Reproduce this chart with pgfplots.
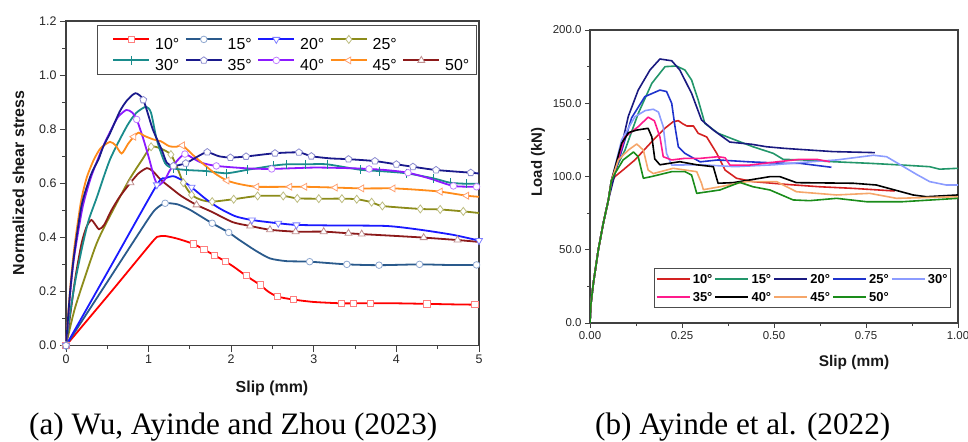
\documentclass[border=0pt]{standalone}
\usepackage{pgfplots}
\pgfplotsset{compat=1.18}
\usepackage{pgfplotstable}
\usepackage{fontspec}
\setmainfont{Liberation Sans}
\newfontfamily\capfont{Liberation Serif}

% left colours
\definecolor{c10}{HTML}{FF0000}\definecolor{m10}{HTML}{FF7F7F}
\definecolor{c15}{HTML}{2A5A8C}\definecolor{m15}{HTML}{8FA8D0}
\definecolor{c20}{HTML}{1A1AFF}\definecolor{m20}{HTML}{8080FF}
\definecolor{c25}{HTML}{8C8C1A}\definecolor{m25}{HTML}{BDBD80}
\definecolor{c30}{HTML}{1A8C8C}
\definecolor{c35}{HTML}{1A1A8C}\definecolor{m35}{HTML}{8C8CD0}
\definecolor{c40}{HTML}{8C1AFF}\definecolor{m40}{HTML}{C080FF}
\definecolor{c45}{HTML}{FF8C1A}\definecolor{m45}{HTML}{FFA070}
\definecolor{c50}{HTML}{8C1A1A}\definecolor{m50}{HTML}{C09090}
% right colours
\definecolor{r10}{HTML}{D42222}
\definecolor{r15}{HTML}{22966A}
\definecolor{r20}{HTML}{1A1A80}
\definecolor{r25}{HTML}{1F33CC}
\definecolor{r30}{HTML}{8C9CFF}
\definecolor{r35}{HTML}{FF1A8C}
\definecolor{r40}{HTML}{000000}
\definecolor{r45}{HTML}{F5A66A}
\definecolor{r50}{HTML}{1A8C1A}

\pgfplotstableread{
x y m
0 0 1
0.55 0.2 0
1.05 0.385 0
1.12 0.403 0
1.2 0.405 0
1.35 0.395 0
1.54 0.376 1
1.67 0.355 1
1.80 0.333 1
1.93 0.311 1
2.05 0.287 0
2.18 0.258 1
2.35 0.224 1
2.45 0.199 0
2.56 0.181 1
2.75 0.17 1
3.0 0.161 0
3.33 0.156 1
3.48 0.156 1
3.69 0.156 1
4.0 0.156 0
4.37 0.154 1
4.7 0.152 0
4.95 0.151 1
5.0 0.151 0
}\tA
\pgfplotstableread{
x y m
0 0 1
0.5 0.235 0
1.0 0.47 0
1.1 0.508 0
1.2 0.526 1
1.35 0.522 0
1.5 0.502 0
1.64 0.476 0
1.77 0.452 1
1.97 0.418 1
2.1 0.39 0
2.3 0.35 0
2.47 0.322 0
2.67 0.312 0
2.95 0.31 1
3.40 0.300 1
3.79 0.297 1
4.28 0.300 1
4.6 0.298 0
4.97 0.298 1
5.0 0.298 0
}\tB
\pgfplotstableread{
x y m
0 0 1
0.55 0.297 0
1.10 0.594 1
1.2 0.618 0
1.3 0.626 0
1.4 0.612 0
1.52 0.585 1
1.7 0.54 0
1.86 0.507 0
2.05 0.478 0
2.25 0.464 1
2.57 0.452 1
2.79 0.446 1
3.2 0.444 0
3.88 0.442 0
4.29 0.428 0
4.69 0.409 0
5.0 0.388 1
}\tC
\pgfplotstableread{
x y m
0 0 1
0.113 0.143 0
0.355 0.365 0
0.5 0.46 0
0.76 0.61 0
0.92 0.686 0
1.03 0.735 1
1.15 0.728 0
1.27 0.706 1
1.35 0.655 0
1.42 0.602 1
1.52 0.557 1
1.64 0.538 0
1.77 0.532 1
2.03 0.541 1
2.32 0.553 1
2.63 0.553 1
2.80 0.544 1
3.06 0.543 1
3.34 0.543 1
3.52 0.541 1
3.70 0.530 1
3.83 0.516 1
4.29 0.505 1
4.53 0.503 1
4.81 0.496 1
5.0 0.490 0
}\tD
\pgfplotstableread{
x y m
0 0 1
0.05 0.12 0
0.113 0.24 0
0.2 0.37 0
0.275 0.464 0
0.37 0.545 0
0.533 0.688 0
0.735 0.81 0
0.85 0.86 0
0.97 0.883 0
1.03 0.86 0
1.1 0.76 0
1.2 0.674 0
1.3 0.655 1
1.46 0.649 1
1.7 0.645 1
1.945 0.637 1
2.2 0.65 1
2.51 0.665 1
2.67 0.67 1
2.9 0.67 1
3.16 0.67 1
3.56 0.65 1
3.8 0.645 1
4.12 0.637 1
4.45 0.618 1
4.65 0.602 1
4.85 0.598 1
5.0 0.598 0
}\tE
\pgfplotstableread{
x y m
0 0 1
0.05 0.2 0
0.1 0.34 0
0.19 0.52 0
0.3 0.63 0
0.396 0.69 0
0.45 0.735 0
0.533 0.785 0
0.65 0.865 0
0.735 0.905 0
0.84 0.933 0
0.936 0.908 1
1.05 0.80 0
1.16 0.723 0
1.22 0.676 0
1.30 0.664 1
1.45 0.674 1
1.6 0.70 0
1.71 0.715 1
1.85 0.70 0
1.99 0.695 1
2.18 0.699 1
2.53 0.711 1
2.82 0.714 1
2.97 0.70 1
3.2 0.692 0
3.42 0.689 1
3.74 0.682 1
4.0 0.67 1
4.2 0.661 1
4.48 0.649 1
4.9 0.639 1
5.0 0.636 0
}\tF
\pgfplotstableread{
x y m
0 0 1
0.05 0.19 0
0.1 0.33 0
0.2 0.51 0
0.3 0.62 0
0.4 0.70 0
0.47 0.75 0
0.55 0.80 0
0.63 0.845 0
0.73 0.871 0
0.8 0.862 0
0.856 0.836 1
0.93 0.77 0
1.0 0.698 0
1.07 0.62 0
1.12 0.592 0
1.2 0.615 0
1.26 0.649 0
1.35 0.685 0
1.44 0.708 1
1.55 0.69 0
1.65 0.675 0
1.82 0.664 1
2.2 0.655 0
2.49 0.653 1
3.0 0.658 0
3.4 0.656 0
3.67 0.653 1
3.9 0.648 0
4.14 0.639 1
4.4 0.618 0
4.69 0.59 1
4.97 0.587 1
5.0 0.587 0
}\tG
\pgfplotstableread{
x y m
0 0 1
0.05 0.21 0
0.1 0.36 0
0.18 0.53 0
0.25 0.62 0
0.335 0.686 0
0.42 0.73 0
0.533 0.753 0
0.6 0.74 0
0.674 0.71 0
0.75 0.745 0
0.82 0.772 1
0.876 0.787 0
0.95 0.775 0
1.057 0.762 0
1.15 0.755 0
1.25 0.737 0
1.34 0.735 0
1.41 0.74 1
1.56 0.698 0
1.80 0.637 0
1.95 0.61 1
2.1 0.597 0
2.31 0.587 1
2.71 0.587 1
2.89 0.587 1
3.26 0.584 1
3.58 0.581 1
3.96 0.581 1
4.25 0.576 0
4.53 0.569 1
4.85 0.554 1
5.0 0.55 0
}\tH
\pgfplotstableread{
x y m
0 0 1
0.05 0.11 0
0.113 0.25 0
0.19 0.38 0
0.25 0.44 0
0.307 0.464 0
0.355 0.447 0
0.40 0.43 0
0.46 0.445 0
0.55 0.50 0
0.65 0.55 0
0.78 0.602 1
0.88 0.637 0
0.98 0.656 0
1.05 0.645 0
1.15 0.612 0
1.26 0.585 0
1.4 0.552 0
1.58 0.52 1
1.76 0.495 0
2.02 0.456 0
2.23 0.442 1
2.47 0.428 1
2.78 0.421 1
3.12 0.421 1
3.42 0.415 1
3.58 0.412 1
4.0 0.405 0
4.33 0.399 1
4.74 0.39 1
5.0 0.383 0
}\tI

% right panel
\pgfplotstableread{
x y
0 0
0.002 12
0.009 27
0.0226 50
0.036 68
0.05 84
0.058 96
0.068 100
0.09 104.5
0.122 111.3
0.172 124.9
0.204 133
0.226 137.4
0.24 138.1
0.252 136
0.263 134.5
0.281 134.5
0.294 129.5
0.317 127
0.344 116
0.367 104.4
0.398 98.8
0.443 96.5
0.534 94.6
0.624 93
0.715 91.9
0.828 90.1
}\rA
\pgfplotstableread{
x y
0 0
0.002 12
0.009 27
0.0226 50
0.036 68
0.05 84
0.058 97
0.075 108
0.095 118
0.131 143
0.168 163.6
0.204 175
0.235 175.4
0.258 172.7
0.276 165.9
0.294 152.2
0.312 136.3
0.348 129.5
0.394 125
0.443 120.3
0.498 115.8
0.525 111.7
0.579 111.3
0.66 110.1
0.76 109
0.85 107.8
0.923 106.7
0.95 105
1.0 105.6
}\rB
\pgfplotstableread{
x y
0 0
0.002 12
0.009 27
0.0226 50
0.036 68
0.05 84
0.077 111
0.104 141
0.131 159
0.163 172.7
0.19 180.2
0.222 179
0.244 172.7
0.276 156.8
0.303 138.6
0.335 131.7
0.38 123.5
0.439 122
0.48 120.3
0.529 119.2
0.57 118.5
0.66 117
0.774 116.3
}\rC
\pgfplotstableread{
x y
0 0
0.002 12
0.009 27
0.0226 50
0.036 68
0.05 84
0.058 97
0.077 110
0.113 140
0.149 154.5
0.19 159
0.208 158
0.222 150
0.231 134
0.24 120.3
0.258 115.8
0.299 110
0.348 111.3
0.434 110
0.529 109
0.57 109
0.656 106.3
}\rD
\pgfplotstableread{
x y
0 0
0.002 12
0.009 27
0.0226 50
0.036 68
0.05 84
0.058 97
0.086 125
0.122 140.8
0.15 145
0.172 145.9
0.186 144
0.199 134
0.208 115.8
0.222 107.8
0.303 108
0.394 106.7
0.5 108
0.57 109.5
0.67 111.3
0.77 114.5
0.806 113.5
0.85 107
0.887 101.5
0.923 96.5
0.968 94.2
1.0 94.2
}\rE
\pgfplotstableread{
x y
0 0
0.002 12
0.009 27
0.0226 50
0.036 68
0.05 84
0.058 97
0.095 127
0.131 134
0.158 140.5
0.175 138
0.19 127
0.199 113.5
0.222 111.3
0.258 112.4
0.3 112.4
0.348 113.5
0.367 112.8
0.38 107.8
0.434 107.8
0.511 110.1
0.57 111.7
0.616 111.7
0.652 110.1
}\rF
\pgfplotstableread{
x y
0 0
0.002 12
0.009 27
0.0226 50
0.036 68
0.05 84
0.058 97
0.086 122.7
0.105 130
0.127 131.7
0.158 132.9
0.168 127
0.176 112
0.19 108
0.244 110.1
0.29 108
0.335 106.7
0.348 95.4
0.389 95.8
0.489 99.9
0.516 99.9
0.561 95.8
0.715 95.4
0.778 94.2
0.878 87.4
0.914 86.2
1.0 87.4
}\rG
\pgfplotstableread{
x y
0 0
0.002 12
0.009 27
0.0226 50
0.036 68
0.05 84
0.058 97
0.077 111.3
0.104 118
0.127 122.2
0.145 118
0.158 104.4
0.172 102
0.226 105.6
0.29 103.3
0.303 95.4
0.308 91
0.353 93
0.425 96.5
0.507 96.5
0.561 89.6
0.67 87.4
0.76 88.5
0.833 85.1
1.0 86.2
}\rH
\pgfplotstableread{
x y
0 0
0.002 12
0.009 27
0.0226 50
0.036 68
0.05 84
0.058 97
0.068 102.2
0.09 111.3
0.118 116.7
0.131 113.5
0.145 98.8
0.168 100
0.222 103.3
0.258 103.3
0.276 101
0.29 88.5
0.353 90.8
0.407 96
0.443 93
0.489 90.8
0.552 84
0.597 83.5
0.67 85.1
0.751 82.8
0.85 82.8
1.0 85.1
}\rI

\pgfplotsset{
  s10/.style={color=c10, mark=square*, mark size=3.1bp, mark options={fill=white, draw=m10, line width=0.8bp, solid}},
  s15/.style={color=c15, mark=*, mark size=3.3bp, mark options={fill=white, draw=m15, line width=0.8bp, solid}},
  s20/.style={color=c20, mark=triangle*, mark size=4bp, mark options={fill=white, draw=m20, line width=0.8bp, solid, rotate=180}},
  s25/.style={color=c25, mark=diamond*, mark size=4bp, mark options={fill=white, draw=m25, line width=0.8bp, solid}},
  s30/.style={color=c30, mark=|, mark size=4.5bp, mark options={draw=c30, line width=1bp, solid}},
  s35/.style={color=c35, mark=pentagon*, mark size=3.6bp, mark options={fill=white, draw=m35, line width=0.8bp, solid}},
  s40/.style={color=c40, mark=*, mark size=3.3bp, mark options={fill=white, draw=m40, line width=0.8bp, solid}},
  s45/.style={color=c45, mark=triangle*, mark size=4bp, mark options={fill=white, draw=m45, line width=0.8bp, solid, rotate=90}},
  s50/.style={color=c50, mark=triangle*, mark size=4bp, mark options={fill=white, draw=m50, line width=0.8bp, solid}},
  ln/.style={line width=1.8bp, smooth, tension=0.4, no marks, forget plot},
  mks/.style={only marks, forget plot, restrict expr to domain={\thisrow{m}}{0.5:1.5}},
  rl/.style={line width=1.6bp, no marks, forget plot, line join=round},
}

\begin{document}
\begin{tikzpicture}
\path[use as bounding box] (0bp,0bp) rectangle (968bp,-442bp);

% ---------------- left panel ----------------
\begin{axis}[
  at={(66bp,-345.5bp)}, anchor=south west,
  scale only axis, width=413bp, height=324.5bp,
  xmin=0, xmax=5, ymin=0, ymax=1.2,
  xtick={0,1,2,3,4,5}, xticklabels={0,1,2,3,4,5},
  ytick={0,0.2,0.4,0.6,0.8,1.0,1.2}, yticklabels={0.0,0.2,0.4,0.6,0.8,1.0,1.2},
  minor xtick={0.5,1.5,2.5,3.5,4.5},
  minor ytick={0.1,0.3,0.5,0.7,0.9,1.1},
  tick pos=left, tick align=outside,
  major tick length=6bp, minor tick length=3.5bp,
  axis line style={draw=black!75, line width=1.1bp},
  every tick/.style={draw=black!75, line width=0.9bp},
  tick label style={font=\fontsize{12.5}{14}\selectfont, text=black!85},
  clip=false,
  legend columns=5,
  legend cell align=left,
  legend style={at={(0.0751,0.9877)}, anchor=north west, draw=black!70, line width=0.8bp,
    font=\fontsize{16}{18}\selectfont, inner xsep=2bp, inner ysep=3.5bp,
    nodes={inner xsep=5bp, inner ysep=0.75bp, text height=19.5bp, text depth=0bp},
    /tikz/every even column/.append style={column sep=-12.4bp}},
  legend image code/.code={\path (-13bp,0bp); \draw[mark repeat=2,mark phase=2,#1] plot coordinates {(0bp,0bp) (18bp,0bp) (36bp,0bp)};},
]
\addplot[c10, ln] table[x=x,y=y] {\tA};
\addplot[s10, mks] table[x=x,y=y] {\tA};
\addplot[c15, ln] table[x=x,y=y] {\tB};
\addplot[s15, mks] table[x=x,y=y] {\tB};
\addplot[c25, ln] table[x=x,y=y] {\tD};
\addplot[s25, mks] table[x=x,y=y] {\tD};
\addplot[c50, ln] table[x=x,y=y] {\tI};
\addplot[s50, mks] table[x=x,y=y] {\tI};
\addplot[c20, ln] table[x=x,y=y] {\tC};
\addplot[s20, mks] table[x=x,y=y] {\tC};
\addplot[c30, ln] table[x=x,y=y] {\tE};
\addplot[s30, mks] table[x=x,y=y] {\tE};
\addplot[c40, ln] table[x=x,y=y] {\tG};
\addplot[s40, mks] table[x=x,y=y] {\tG};
\addplot[c45, ln] table[x=x,y=y] {\tH};
\addplot[s45, mks] table[x=x,y=y] {\tH};
\addplot[c35, ln] table[x=x,y=y] {\tF};
\addplot[s35, mks] table[x=x,y=y] {\tF};

\addlegendimage{s10, line width=1.8bp}\addlegendentry{10°}
\addlegendimage{s15, line width=1.8bp}\addlegendentry{15°}
\addlegendimage{s20, line width=1.8bp}\addlegendentry{20°}
\addlegendimage{s25, line width=1.8bp}\addlegendentry{25°}
\addlegendimage{empty legend}\addlegendentry{}
\addlegendimage{s30, line width=1.8bp}\addlegendentry{30°}
\addlegendimage{s35, line width=1.8bp}\addlegendentry{35°}
\addlegendimage{s40, line width=1.8bp}\addlegendentry{40°}
\addlegendimage{s45, line width=1.8bp}\addlegendentry{45°}
\addlegendimage{s50, line width=1.8bp}\addlegendentry{50°}
\end{axis}

% ---------------- right panel ----------------
\begin{axis}[
  at={(590bp,-323bp)}, anchor=south west,
  scale only axis, width=368bp, height=293bp,
  xmin=0, xmax=1, ymin=0, ymax=200,
  xtick={0,0.25,0.5,0.75,1}, xticklabels={0.00,0.25,0.50,0.75,1.00},
  ytick={0,50,100,150,200}, yticklabels={0.0,50.0,100.0,150.0,200.0},
  minor xtick={0.125,0.375,0.625,0.875},
  minor ytick={25,75,125,175},
  tick pos=left, tick align=outside,
  major tick length=5bp, minor tick length=3bp,
  axis line style={draw=black!75, line width=1.1bp},
  every tick/.style={draw=black!75, line width=0.9bp},
  tick label style={font=\fontsize{11.5}{13}\selectfont, text=black!85},
  legend columns=5,
  legend cell align=left,
  legend style={at={(0.1739,0.1877)}, anchor=north west, draw=black!70, line width=0.8bp,
    font=\bfseries\fontsize{13}{15}\selectfont, inner xsep=1bp, inner ysep=1.5bp,
    nodes={inner xsep=1.8bp, inner ysep=4.4bp, text height=9.3bp, text depth=0bp},
    /tikz/every even column/.append style={column sep=0bp}},
  legend image code/.code={\draw[#1, line width=2.6bp] (0bp,0bp) -- (33bp,0bp);},
]
\addplot[r10, rl] table[x=x,y=y] {\rA};
\addplot[r15, rl] table[x=x,y=y] {\rB};
\addplot[r20, rl] table[x=x,y=y] {\rC};
\addplot[r25, rl] table[x=x,y=y] {\rD};
\addplot[r30, rl] table[x=x,y=y] {\rE};
\addplot[r35, rl] table[x=x,y=y] {\rF};
\addplot[r40, rl] table[x=x,y=y] {\rG};
\addplot[r45, rl] table[x=x,y=y] {\rH};
\addplot[r50, rl] table[x=x,y=y] {\rI};
\addlegendimage{r10}\addlegendentry{10°}
\addlegendimage{r15}\addlegendentry{15°}
\addlegendimage{r20}\addlegendentry{20°}
\addlegendimage{r25}\addlegendentry{25°}
\addlegendimage{r30}\addlegendentry{30°}
\addlegendimage{r35}\addlegendentry{35°}
\addlegendimage{r40}\addlegendentry{40°}
\addlegendimage{r45}\addlegendentry{45°}
\addlegendimage{r50}\addlegendentry{50°}
\end{axis}

% ---------------- labels and captions ----------------
\node[rotate=90, font=\bfseries\fontsize{16}{18}\selectfont, text=black!90] at (18.5bp,-183bp) {Normalized shear stress};
\node[font=\bfseries\fontsize{16}{18}\selectfont, text=black!90] at (272bp,-388bp) {Slip (mm)};
\node[rotate=90, font=\bfseries\fontsize{15}{17}\selectfont, text=black!90] at (538bp,-162bp) {Load (kN)};
\node[font=\bfseries\fontsize{15.5}{17}\selectfont, text=black!90] at (854bp,-363bp) {Slip (mm)};
\node[anchor=base west, inner sep=0pt, font=\capfont\fontsize{31.3}{36}\selectfont] at (29bp,-434bp) {(a) Wu, Ayinde and Zhou (2023)};
\node[anchor=base west, inner sep=0pt, font=\capfont\fontsize{31.3}{36}\selectfont] at (595bp,-434bp) {(b) Ayinde et al. (2022)};
\end{tikzpicture}
\end{document}
